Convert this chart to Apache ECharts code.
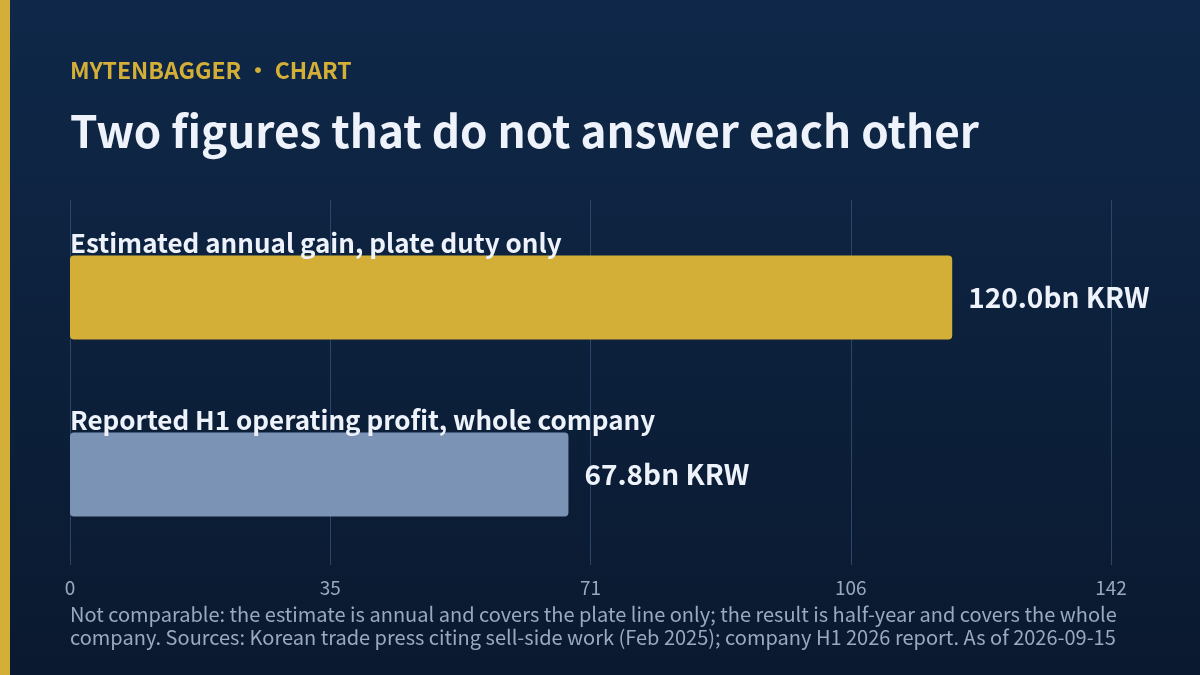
<!DOCTYPE html>
<html>
<head>
<meta charset="utf-8">
<script src="https://cdn.jsdelivr.net/npm/echarts@6/dist/echarts.min.js"></script>
<style>
  html, body { margin: 0; padding: 0; background: #0c1f3a; }
  #chart { width: 1200px; height: 675px; }
</style>
</head>
<body>
<div id="chart"></div>
<script>
// data
var categories = ['Estimated annual gain, plate duty only', 'Reported H1 operating profit, whole company'];
var values = [120.0, 67.8];
var barColors = ['#d4af37', '#7b93b5'];
var axisMax = 141.6;
var axisStep = 35.4;

var font = '"Noto Sans CJK SC", "Noto Sans", sans-serif';

var chart = echarts.init(document.getElementById('chart'));
var option = {
    backgroundColor: {
        type: 'linear', x: 0, y: 0, x2: 0, y2: 1,
        colorStops: [{offset: 0, color: '#0f2849'}, {offset: 1, color: '#0a192f'}]
    },
    textStyle: {fontFamily: font},
    graphic: [{
        type: 'rect', left: 0, top: 0,
        shape: {width: 10, height: 675},
        style: {fill: '#d4af37'}
    }],
    title: [
        {
            text: 'MYTENBAGGER · CHART',
            left: 65, top: 54,
            textStyle: {color: '#d4af37', fontSize: 23, fontWeight: 'bold', fontFamily: font}
        },
        {
            text: 'Two figures that do not answer each other',
            left: 65, top: 104,
            textStyle: {color: '#eef2fa', fontSize: 44, fontWeight: 'bold', fontFamily: font}
        },
        {
            text: 'Not comparable: the estimate is annual and covers the plate line only; the result is half-year and covers the whole\ncompany. Sources: Korean trade press citing sell-side work (Feb 2025); company H1 2026 report. As of 2026-09-15',
            left: 65, top: 598,
            textStyle: {color: '#9aa9bf', fontSize: 20, lineHeight: 23, fontWeight: 'normal', fontFamily: font}
        }
    ],
    // grid 0 carries the gridlines and tick labels, grid 1 the bars
    grid: [
        {left: 70, right: 89, top: 200, bottom: 110},
        {left: 70, right: 89, top: 209, bottom: 112}
    ],
    xAxis: [
        {
            type: 'value', gridIndex: 0,
            min: 0, max: axisMax, interval: axisStep,
            axisLine: {show: false},
            axisTick: {show: false},
            splitLine: {lineStyle: {color: '#2b4668', width: 1}},
            axisLabel: {
                color: '#9aa9bf', fontSize: 19, margin: 13,
                formatter: function (v) { return Math.round(v).toString(); }
            }
        },
        {
            type: 'value', gridIndex: 1,
            min: 0, max: axisMax, interval: axisStep,
            show: false
        }
    ],
    yAxis: [
        {
            type: 'category', gridIndex: 0, data: categories, show: false
        },
        {
            type: 'category', gridIndex: 1,
            inverse: true,
            data: categories,
            axisLine: {show: false},
            axisTick: {show: false},
            axisLabel: {
                inside: true,
                margin: 0,
                align: 'left',
                verticalAlign: 'middle',
                formatter: function (v) { return '{a|' + v + '}'; },
                rich: {
                    a: {color: '#eef2fa', fontSize: 26, fontWeight: 'bold', lineHeight: 30,
                        fontFamily: font, padding: [0, 0, 108, 0]}
                }
            },
            z: 10
        }
    ],
    series: [{
        type: 'bar',
        xAxisIndex: 1,
        yAxisIndex: 1,
        barWidth: 84,
        data: values.map(function (v, i) {
            return {value: v, itemStyle: {color: barColors[i], borderRadius: 4}};
        }),
        label: {
            show: true,
            position: 'right',
            distance: 16,
            color: '#eef2fa',
            fontSize: 28,
            fontWeight: 'bold',
            fontFamily: font,
            formatter: function (p) { return p.value.toFixed(1) + 'bn KRW'; }
        }
    }]
};
chart.setOption(option);
</script>
</body>
</html>
